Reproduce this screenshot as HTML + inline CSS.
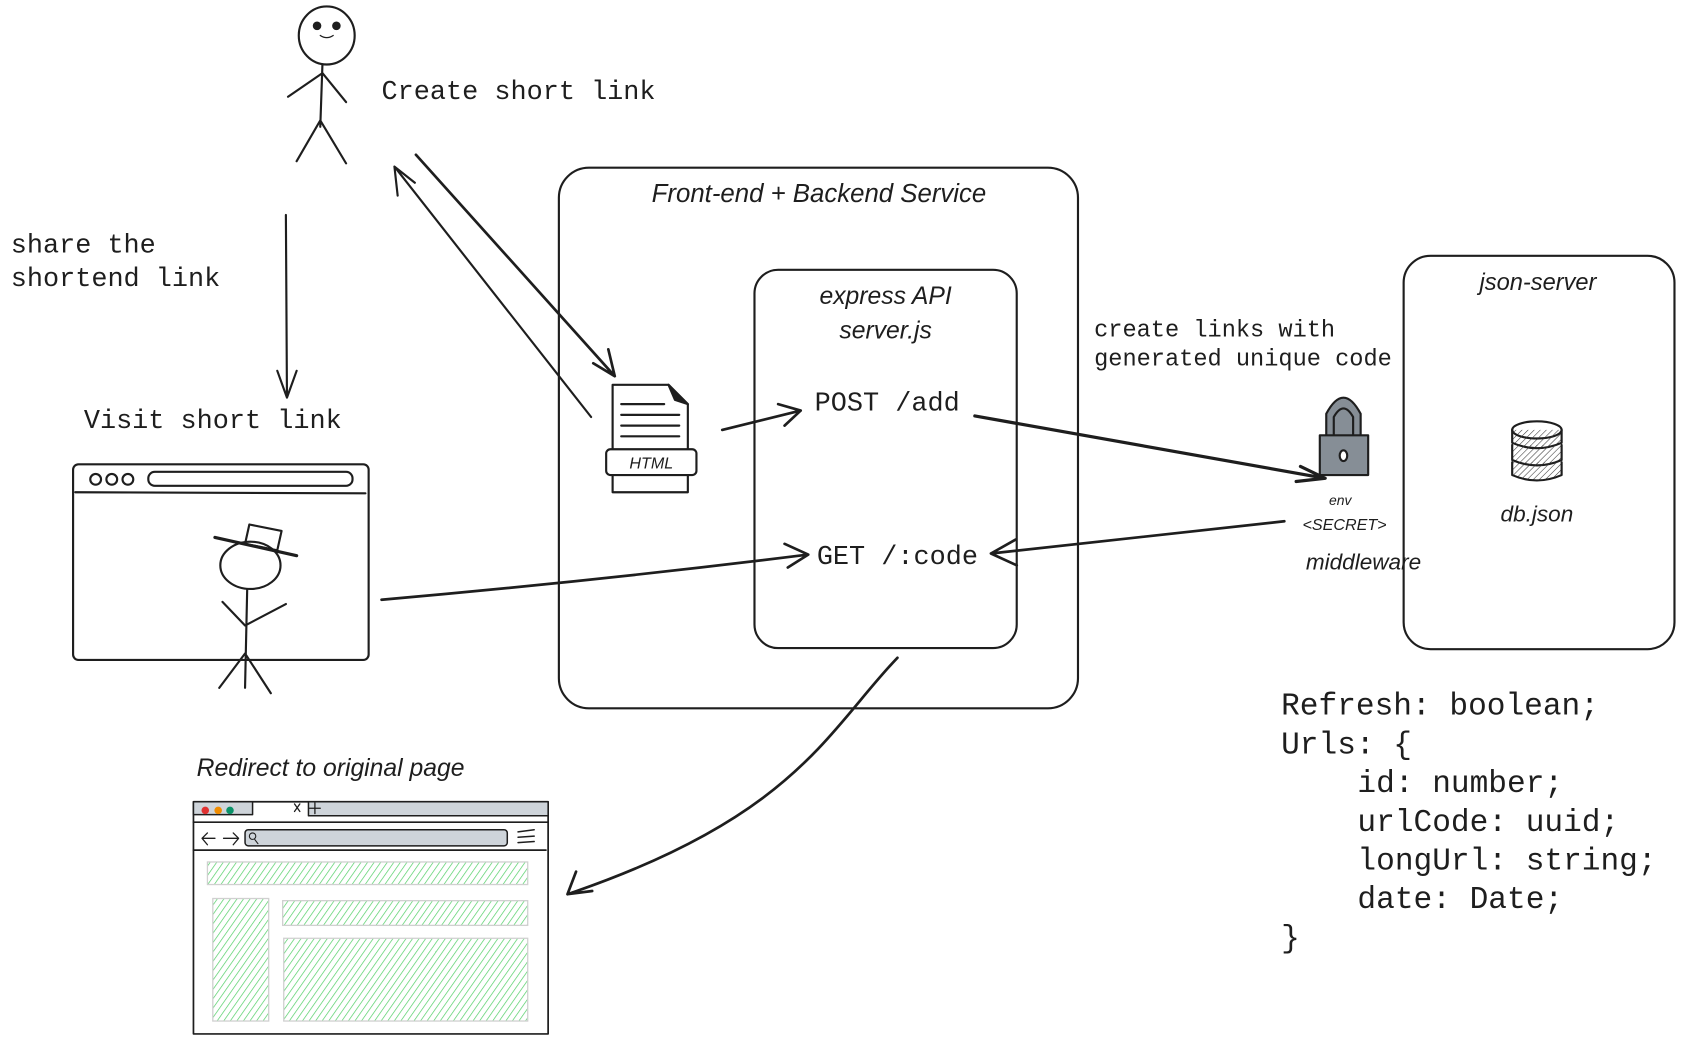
<!DOCTYPE html>
<html><head><meta charset="utf-8"><style>html,body{margin:0;padding:0;background:#fff}svg{display:block}</style></head>
<body>
<svg width="1682" height="1042" viewBox="0 0 1565 969.5" xmlns="http://www.w3.org/2000/svg">
<defs>
<pattern id="g" width="5" height="5" patternUnits="userSpaceOnUse" patternTransform="rotate(35)"><line x1="0" y1="0" x2="0" y2="5" stroke="#51cf66" stroke-width="1.3"/></pattern>
<pattern id="k" width="4" height="4" patternUnits="userSpaceOnUse" patternTransform="rotate(45)"><line x1="0" y1="0" x2="0" y2="4" stroke="#333" stroke-width="1"/></pattern>
</defs>
<g fill="none" stroke="#1e1e1e" stroke-width="2" stroke-linecap="round" stroke-linejoin="round">
<!-- stick figure 1 -->
<ellipse cx="304" cy="33" rx="26" ry="27"/>
<circle cx="295" cy="24" r="3" fill="#1e1e1e"/><circle cx="313" cy="24" r="3" fill="#1e1e1e"/>
<path d="M298 33 Q304 37 310 33" stroke-width="1.2"/>
<path d="M300 60 L298 118 M268 90 L300 68 L322 95 M298 112 L276 150 M298 112 L322 152"/>
<!-- share arrow -->
<path d="M266 200 L267 370 M258 345 L267 370 L276 345"/>
<!-- browser 1 -->
<rect x="68" y="432" width="275" height="182" rx="5"/>
<circle cx="89" cy="446" r="5"/><circle cx="104" cy="446" r="5"/><circle cx="119" cy="446" r="5"/>
<rect x="138" y="439" width="190" height="13" rx="6"/>
<path d="M70 458 L340 459"/>
<!-- hat man -->
<path d="M232 488 L262 494 L258 512 L228 506 Z" fill="#fff"/>
<path d="M200 500 L276 517" stroke-width="3"/>
<ellipse cx="233" cy="526" rx="28" ry="22"/>
<path d="M230 548 L228 640 M207 560 L228 582 L266 562 M228 608 L204 640 M228 608 L252 645"/>
<!-- visit arrow -->
<path d="M355 558 Q560 540 752 516 M730 506 L752 516 L733 528" stroke-width="2.5"/>
<!-- diag arrows -->
<path d="M387 144 L572 350 M552 338 L572 350 L566 325" stroke-width="2.5"/>
<path d="M550 388 L367 155 M370 182 L367 155 L386 170"/>
<!-- big box -->
<rect x="520" y="156" width="483" height="503" rx="28"/>
<rect x="702" y="251" width="244" height="352" rx="22"/>
<!-- html doc -->
<path d="M570 358 L622 358 L640 376 L640 458 L570 458 Z"/>
<path d="M622 358 L628 372 L640 376 Z" fill="#1e1e1e"/>
<path d="M578 376 L618 376 M578 386 L632 386 M578 396 L632 396 M578 406 L632 406"/>
<rect x="564" y="418" width="84" height="24" rx="4" fill="#fff"/>
<!-- post arrow -->
<path d="M672 400 L745 382 M724 376 L745 382 L730 396" stroke-width="2.5"/>
<!-- to lock -->
<path d="M907 387 L1233 445 M1210 434 L1233 445 L1206 448" stroke-width="3"/>
<path d="M1195 485 L922 515 M945 502 L922 515 L946 526" stroke-width="2.5"/>
<!-- lock -->
<path d="M1234 405 L1234 385 Q1250 355 1266 385 L1266 405 M1241 405 L1241 388 Q1250 372 1259 388 L1259 405" fill="#868e96"/>
<rect x="1228" y="405" width="45" height="37" fill="#868e96"/>
<ellipse cx="1250" cy="424" rx="3.5" ry="5" fill="#fff"/>
<!-- json server box -->
<rect x="1306" y="238" width="252" height="366" rx="25"/>
<!-- db -->
<ellipse cx="1430" cy="400" rx="23" ry="8" fill="#fff"/>
<path d="M1407 400 L1407 412 Q1430 422 1453 412 L1453 400" fill="url(#k)"/>
<path d="M1407 414 L1407 428 Q1430 438 1453 428 L1453 414" fill="url(#k)"/>
<path d="M1407 430 L1407 442 Q1430 452 1453 442 L1453 430" fill="url(#k)"/>
<!-- redirect curve -->
<path d="M835 612 C770 680 740 760 528 832 M536 811 L528 832 L551 829" stroke-width="2.5"/>
<!-- browser 2 -->
<rect x="180" y="746" width="330" height="216" stroke-width="1.6"/>
<rect x="287" y="746" width="223" height="13" fill="#ced4da" stroke-width="1.4"/>
<rect x="180" y="746" width="55" height="12" fill="#ced4da" stroke-width="1.4"/>
<path d="M180 765 L510 765 M180 791 L508 791" stroke-width="1.6"/>
<rect x="228" y="772" width="244" height="15" rx="3" fill="#ced4da" stroke-width="1.4"/>
<circle cx="235" cy="778" r="3" stroke-width="1"/><path d="M237 781 L240 785" stroke-width="1"/>
<path d="M482 774 L497 772 M482 779 L497 778 M482 784 L497 783" stroke-width="1.4"/>
<path d="M200 780 L188 780 M193 775 L188 780 L193 786 M208 780 L221 780 M217 775 L222 780 L217 786" stroke-width="1.2"/>
<path d="M274 748 L279 755 M279 748 L274 755 M293 747 L293 757 M288 752 L298 752" stroke-width="1.2"/>
</g>
<circle cx="191" cy="754" r="3.5" fill="#e03131"/><circle cx="203" cy="754" r="3.5" fill="#f08c00"/><circle cx="214" cy="754" r="3.5" fill="#099268"/>
<g fill="url(#g)" stroke="#d0d0d0" stroke-width="1.2">
<rect x="193" y="802" width="298" height="21"/>
<rect x="198" y="836" width="52" height="114"/>
<rect x="263" y="838" width="228" height="23"/>
<rect x="264" y="873" width="227" height="77"/>
</g>
<g font-family="Liberation Mono, monospace" fill="#1e1e1e" font-size="25">
<text x="355" y="92">Create short link</text>
<text x="10" y="235">share the</text>
<text x="10" y="266">shortend link</text>
<text x="78" y="398">Visit short link</text>
<text x="758" y="382">POST /add</text>
<text x="760" y="525">GET /:code</text>
<text x="1018" y="313" font-size="22">create links with</text>
<text x="1018" y="340" font-size="22">generated unique code</text>
<g font-size="29">
<text x="1192" y="665">Refresh: boolean;</text>
<text x="1192" y="701">Urls: {</text>
<text x="1263" y="737">id: number;</text>
<text x="1263" y="773">urlCode: uuid;</text>
<text x="1263" y="809">longUrl: string;</text>
<text x="1263" y="845">date: Date;</text>
<text x="1192" y="881">}</text>
</g>
</g>
<g font-family="Liberation Sans, sans-serif" fill="#1e1e1e" font-style="italic">
<text x="762" y="188" font-size="24" text-anchor="middle">Front-end + Backend Service</text>
<text x="824" y="283" font-size="23" text-anchor="middle">express API</text>
<text x="824" y="315" font-size="23" text-anchor="middle">server.js</text>
<text x="606" y="436" font-size="15" text-anchor="middle">HTML</text>
<text x="1431" y="270" font-size="22" text-anchor="middle">json-server</text>
<text x="1430" y="485" font-size="21" text-anchor="middle">db.json</text>
<text x="1247" y="470" font-size="13" text-anchor="middle">env</text>
<text x="1251" y="493" font-size="15" text-anchor="middle">&lt;SECRET&gt;</text>
<text x="1215" y="530" font-size="21">middleware</text>
<text x="183" y="722" font-size="23">Redirect to original page</text>
</g>
</svg>
</body></html>
